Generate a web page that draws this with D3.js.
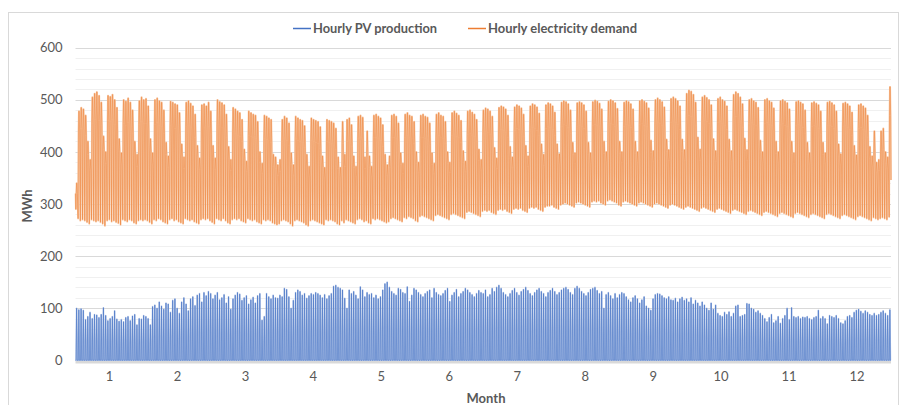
<!DOCTYPE html>
<html><head><meta charset="utf-8">
<script src="https://cdn.jsdelivr.net/npm/d3@7"></script>
<style>body{margin:0;background:#fff;}text{font-family:Lato,"Liberation Sans",sans-serif;}</style>
</head><body>
<script>
// ---- DATA ----
const months = ["1","2","3","4","5","6","7","8","9","10","11","12"];
const yTicks = [0,100,200,300,400,500,600];
const seriesNames = ["Hourly PV production","Hourly electricity demand"];

// daily PV peak (MWh), Jan..Dec
const pvPeak = [
100,97,99,96,78,84,92,80,88,87,82,88,101,86,76,80,84,95,79,75,78,74,82,84,76,85,88,68,80,79,86,
84,80,68,103,106,100,112,104,98,110,108,92,115,118,100,90,112,120,108,95,118,122,105,125,128,112,130,124,
132,128,118,125,130,116,120,126,110,122,98,118,125,130,127,115,120,124,108,116,121,110,124,128,77,84,128,122,118,125,120,
119,125,122,138,136,122,100,115,130,135,132,125,128,119,124,128,126,130,128,125,120,126,118,124,128,142,144,140,138,135,
119,100,135,128,132,125,118,141,135,122,130,126,128,120,125,118,122,135,147,150,140,132,128,125,138,136,130,128,141,113,125,
138,135,130,126,122,128,132,135,120,138,130,126,124,128,134,138,113,125,130,136,122,128,132,138,135,130,126,122,128,134,
130,128,135,122,126,138,132,140,144,138,130,126,122,128,134,138,130,125,132,136,140,134,128,124,130,135,138,132,128,122,130,
134,138,132,126,130,135,138,140,136,130,126,138,142,138,132,128,124,130,136,138,140,134,128,132,100,126,130,124,118,128,120,
126,130,128,122,116,112,120,124,118,110,116,122,104,100,96,118,126,128,127,124,120,118,122,116,115,119,112,118,121,115,
118,112,120,108,115,110,104,112,106,100,96,110,98,106,90,86,84,92,88,93,84,90,104,106,84,86,88,109,108,100,98,
92,95,90,86,80,74,82,88,72,76,84,71,80,86,100,78,101,84,82,84,80,83,82,84,80,78,82,84,96,80,
84,80,70,86,84,82,86,80,72,70,76,84,86,82,92,96,98,94,90,95,92,88,86,90,86,88,92,95,90,86,97
];

// daily demand maximum (MWh)
const demandMax = [
340,478,485,482,470,420,385,505,512,515,508,495,430,400,508,506,510,500,485,425,398,500,497,503,495,480,420,395,498,505,500,
502,488,425,398,500,503,498,495,480,418,392,497,495,492,490,475,415,390,495,498,493,488,472,412,388,490,492,488,
495,478,412,388,500,496,494,490,472,410,385,485,482,478,475,462,405,382,478,475,472,470,458,400,378,470,468,465,462,395,390,
375,385,462,468,465,455,398,375,468,465,462,460,450,395,372,465,462,460,458,448,392,370,462,460,458,455,445,390,370,458,
395,462,465,452,392,372,468,470,466,390,440,392,372,470,472,468,465,452,395,375,392,470,472,468,455,398,378,472,475,470,468,
458,400,380,470,472,468,466,455,398,378,472,475,470,468,458,400,380,475,478,474,470,460,402,382,478,480,476,472,462,405,
385,480,484,482,478,468,408,388,485,488,486,482,470,410,390,486,490,488,484,472,412,392,488,492,490,486,474,415,395,490,494,
492,488,476,415,396,495,498,496,492,480,418,398,494,496,494,490,478,418,398,496,499,497,493,482,420,400,497,500,498,494,483,
420,400,495,498,496,492,482,420,400,498,500,497,494,484,422,402,500,503,500,496,486,424,404,502,505,502,498,488,424,404,
512,518,516,510,495,428,405,505,508,504,500,490,425,402,502,505,500,497,488,424,402,510,515,512,505,492,426,404,500,502,498,
495,485,422,400,500,502,498,495,484,420,400,498,500,497,494,482,420,398,496,498,495,492,480,418,398,494,496,493,490,478,
418,398,495,497,494,490,478,415,396,493,495,492,488,476,412,394,490,492,488,484,470,410,392,440,380,385,440,445,400,390,525
];

// daily daytime shoulder level of demand (MWh)
const demandDay = [
320,440,445,442,432,395,365,455,462,465,460,450,405,378,460,458,462,452,440,400,375,455,450,456,448,436,398,372,452,458,455,
455,442,400,375,452,456,450,448,436,395,370,450,448,445,444,432,392,368,448,450,446,442,428,390,366,444,446,442,
448,434,390,366,452,448,446,444,428,388,364,440,436,432,430,420,384,362,432,430,428,426,415,380,358,426,424,421,418,372,368,
355,362,420,425,422,413,376,355,425,422,420,418,408,373,352,422,420,418,416,406,370,350,420,418,416,413,404,368,350,416,
372,420,422,410,370,352,425,427,423,368,400,370,352,427,428,425,422,410,373,355,370,427,428,425,413,376,358,428,431,427,425,
416,378,360,427,428,425,423,413,376,358,428,431,427,425,416,378,360,431,434,430,427,418,380,362,434,436,432,429,420,383,
365,436,440,438,434,425,386,368,440,443,441,438,427,388,370,441,445,443,440,429,390,372,443,447,445,441,431,392,374,445,448,
447,443,432,392,375,449,452,450,447,436,395,377,448,450,449,445,434,395,377,450,453,451,448,438,397,379,451,454,452,449,439,
397,379,449,452,450,447,438,397,379,452,454,451,449,440,399,381,454,457,454,450,442,401,383,456,459,456,452,443,401,383,
465,470,468,463,450,404,384,459,461,458,454,445,402,381,456,459,454,451,443,401,381,463,468,465,459,447,403,383,454,456,452,
450,440,399,379,454,456,452,450,440,397,379,452,454,451,449,438,397,377,450,452,450,447,436,395,377,449,450,448,445,434,
395,377,450,451,449,445,434,392,375,448,450,447,443,432,390,373,445,447,443,440,427,388,371,400,360,364,400,405,378,369,470
];

// daily demand minimum (MWh)
const demandMin = [
290,272,268,270,268,265,262,270,268,266,268,265,262,258,268,270,266,268,265,263,260,270,268,266,270,268,264,262,268,270,268,
270,268,265,262,270,268,272,270,266,264,262,270,272,268,270,266,264,262,272,270,268,270,266,264,262,270,272,270,
272,268,265,262,272,270,268,272,268,264,262,270,272,270,272,268,266,264,272,270,268,270,266,264,262,270,268,270,268,264,262,
260,262,268,270,268,266,262,258,268,270,268,266,264,260,258,268,270,268,266,264,262,260,270,268,270,268,266,262,260,268,
264,270,268,266,264,262,270,272,270,266,268,264,262,272,270,272,270,268,266,264,266,272,274,272,270,268,266,274,272,276,274,
272,268,266,276,278,276,274,272,270,268,278,280,278,276,274,272,270,280,282,280,278,276,274,272,284,286,284,282,280,278,
276,286,288,286,288,284,282,280,288,290,288,290,286,284,282,290,292,290,292,288,286,284,292,294,292,294,290,288,286,294,296,
296,298,294,292,290,298,300,302,300,298,296,294,302,304,302,300,298,296,294,304,306,304,306,302,300,298,306,308,306,304,302,
298,296,304,306,304,302,300,298,296,302,304,302,300,298,296,294,300,302,300,298,296,294,292,298,300,298,296,294,292,290,
294,296,294,292,290,288,286,292,294,292,290,288,286,284,290,292,290,288,286,284,282,288,290,288,286,284,282,280,286,288,286,
284,282,280,278,284,286,284,282,280,278,276,282,284,282,280,278,276,274,282,284,282,280,278,276,274,280,282,280,278,276,
274,272,280,282,280,278,276,274,272,278,280,278,276,274,272,270,276,278,276,274,272,270,268,274,272,270,272,274,272,270,275
];
const demandStart = 320, demandEnd = 346;   // first and last hour of the year

// ---- CHART ----
const W = 906, H = 405;
const svg = d3.select("body").append("svg").attr("width", W).attr("height", H);

svg.append("rect").attr("x", 8.5).attr("y", 12.5).attr("width", 890).attr("height", 400)
  .attr("fill", "#fff").attr("stroke", "#d9d9d9").attr("stroke-width", 1);

const L = 75.5, R = 891, T = 47.7, B = 360.3;
const x = d3.scaleLinear().domain([0, 8760]).range([L, R]);
const y = d3.scaleLinear().domain([0, 600]).range([B, T]);
const xm = d3.scaleBand().domain(months).range([L, R]);

// gridlines
const minor = d3.range(20, 601, 20).filter(v => v % 100 !== 0);
svg.append("g").selectAll("line").data(minor).join("line")
  .attr("x1", L).attr("x2", R).attr("y1", d => Math.round(y(d)) + 0.5).attr("y2", d => Math.round(y(d)) + 0.5)
  .attr("stroke", "#f0f0f0").attr("stroke-width", 1);
svg.append("g").selectAll("line").data(yTicks.filter(v => v > 0)).join("line")
  .attr("x1", L).attr("x2", R).attr("y1", d => Math.round(y(d)) + 0.5).attr("y2", d => Math.round(y(d)) + 0.5)
  .attr("stroke", "#d9d9d9").attr("stroke-width", 1);

// axis line at 0
svg.append("line").attr("x1", L).attr("x2", R).attr("y1", y(0) + 1.8).attr("y2", y(0) + 1.8)
  .attr("stroke", "#d9d9d9").attr("stroke-width", 3);

// hourly trace built from the daily readings
const demandPts = [[0, demandStart]];
demandMax.forEach((mx, d) => {
  demandPts.push([d * 24 + 4, demandMin[d]]);
  demandPts.push([d * 24 + 8, demandDay[d]]);
  demandPts.push([d * 24 + 12, mx]);
  demandPts.push([d * 24 + 15, mx]);
  demandPts.push([d * 24 + 20, demandDay[d]]);
});
demandPts.push([8760, demandEnd]);

const pvPts = [[0, 0]];
pvPeak.forEach((p, d) => {
  pvPts.push([d * 24 + 6, 0]);
  pvPts.push([d * 24 + 12, p]);
  pvPts.push([d * 24 + 18, 0]);
});
pvPts.push([8760, 0]);

const line = d3.line().x(d => x(d[0])).y(d => y(d[1]));

svg.append("path").datum(demandPts).attr("d", line)
  .attr("fill", "none").attr("stroke", "#F7CBAA").attr("stroke-width", 1.8).attr("stroke-linejoin", "round");
svg.append("path").datum(demandPts).attr("d", line)
  .attr("fill", "none").attr("stroke", "#ED7D31").attr("stroke-width", 0.5).attr("stroke-linejoin", "round");
svg.append("path").datum(pvPts).attr("d", line)
  .attr("fill", "none").attr("stroke", "#B7C8E8").attr("stroke-width", 1.6).attr("stroke-linejoin", "round");
svg.append("path").datum(pvPts).attr("d", line)
  .attr("fill", "none").attr("stroke", "#4472C4").attr("stroke-width", 0.6).attr("stroke-linejoin", "round");

// y axis
const ya = svg.append("g").attr("transform", `translate(${L},0)`)
  .call(d3.axisLeft(y).tickValues(yTicks).tickSize(0).tickPadding(13));
ya.select(".domain").remove();
ya.selectAll("text").attr("font-size", 13).attr("fill", "#595959").attr("font-family", "Lato, sans-serif");

// x axis
const xa = svg.append("g").attr("transform", `translate(0,${B})`)
  .call(d3.axisBottom(xm).tickSize(0).tickPadding(11));
xa.select(".domain").remove();
xa.selectAll("text").attr("font-size", 13).attr("fill", "#595959").attr("font-family", "Lato, sans-serif");

// axis titles
svg.append("text").attr("transform", "translate(32,206) rotate(-90)").attr("text-anchor", "middle")
  .attr("font-size", 13).attr("font-weight", "bold").attr("fill", "#595959").text("MWh");
svg.append("text").attr("x", 486).attr("y", 403).attr("text-anchor", "middle")
  .attr("font-size", 13).attr("font-weight", "bold").attr("fill", "#595959").text("Month");

// legend
const legend = [
  {name: seriesNames[0], color: "#4472C4", lx: 293, tx: 313, tw: 124},
  {name: seriesNames[1], color: "#ED7D31", lx: 468, tx: 488, tw: 149}
];
legend.forEach(l => {
  svg.append("line").attr("x1", l.lx).attr("x2", l.lx + 18).attr("y1", 28.5).attr("y2", 28.5)
    .attr("stroke", l.color).attr("stroke-width", 1.5);
  svg.append("text").attr("x", l.tx).attr("y", 33).attr("font-size", 13).attr("font-weight", "bold")
    .attr("fill", "#595959").attr("textLength", l.tw).attr("lengthAdjust", "spacingAndGlyphs").text(l.name);
});
</script>
</body></html>
